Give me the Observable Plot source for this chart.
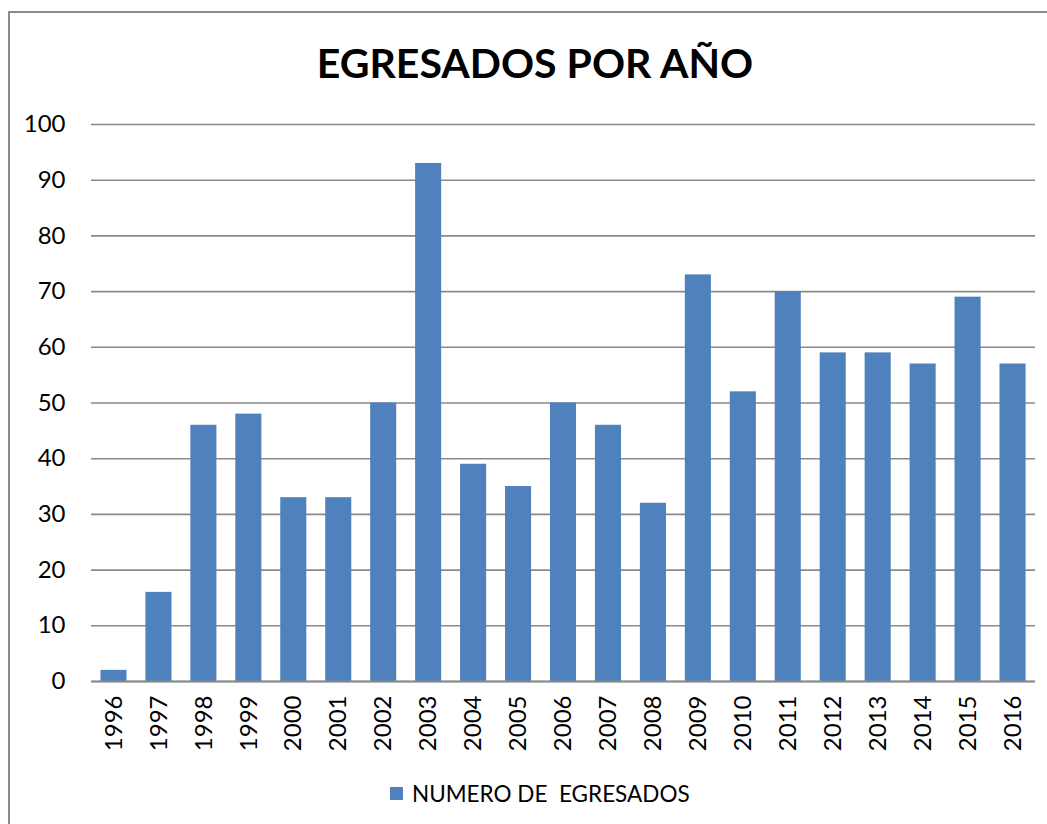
<!DOCTYPE html>
<html>
<head>
<meta charset="utf-8">
<script src="https://cdn.jsdelivr.net/npm/d3@7"></script>
<script src="https://cdn.jsdelivr.net/npm/@observablehq/plot@0.6"></script>
<style>
  html, body { margin: 0; padding: 0; background: #fff; }
  body { width: 1047px; height: 824px; position: relative; overflow: hidden; font-family: Lato, "Liberation Sans", sans-serif; }
  #frame { position: absolute; left: 8px; top: 11px; width: 1100px; height: 900px; border-left: 2px solid #8a8a8a; border-top: 2px solid #8a8a8a; }
  #title { position: absolute; left: 0; top: 0; width: 1047px; height: 100px; text-align: center; }
  #title span { position: absolute; left: 535px; top: 62px; transform: translate(-50%, -50%); font-weight: bold; font-size: 41px; color: #000; white-space: nowrap; }
  #chart { position: absolute; left: 0; top: 100px; }
  #legend { position: absolute; left: 390px; top: 780px; display: flex; align-items: center; font-size: 22.5px; color: #000; white-space: pre; }
  #legend .sw { width: 13px; height: 13px; background: #4F81BD; margin-right: 9px; }
</style>
</head>
<body>
<div id="frame"></div>
<div id="title"><span>EGRESADOS POR AÑO</span></div>
<div id="chart"></div>
<div id="legend"><div class="sw"></div><span>NUMERO DE  EGRESADOS</span></div>
<script>
const years = ["1996","1997","1998","1999","2000","2001","2002","2003","2004","2005","2006","2007","2008","2009","2010","2011","2012","2013","2014","2015","2016"];
const egresados = [2,16,46,48,33,33,50,93,39,35,50,46,32,73,52,70,59,59,57,69,57];
const yTicks = [0,10,20,30,40,50,60,70,80,90,100];

const data = years.map((y, i) => ({year: y, value: egresados[i]}));

const chart = Plot.plot({
  width: 1047,
  height: 661,
  marginLeft: 91,
  marginRight: 12,
  marginTop: 24,
  marginBottom: 80,
  style: {fontFamily: "Lato, 'Liberation Sans', sans-serif", fontSize: "24px", color: "#000", background: "transparent"},
  x: {domain: years, paddingInner: 0.42, paddingOuter: 0.21, round: false, label: null},
  y: {domain: [0, 100], label: null},
  marks: [
    Plot.gridY(yTicks, {stroke: "#8a8a8a", strokeOpacity: 1, strokeWidth: 1.6}),
    Plot.barY(data, {x: "year", y: "value", fill: "#4F81BD"}),
    Plot.ruleY([0], {stroke: "#8a8a8a", strokeWidth: 1.8}),
    Plot.ruleX([0], {frameAnchor: "left", stroke: "#8a8a8a", strokeWidth: 1.8}),
    Plot.axisY(yTicks, {tickSize: 0, tickPadding: 26, label: null, fontSize: 24}),
    Plot.axisX(years, {tickSize: 0, tickPadding: 14, tickRotate: -90, label: null, fontSize: 24})
  ]
});
document.getElementById("chart").appendChild(chart);
</script>
</body>
</html>
